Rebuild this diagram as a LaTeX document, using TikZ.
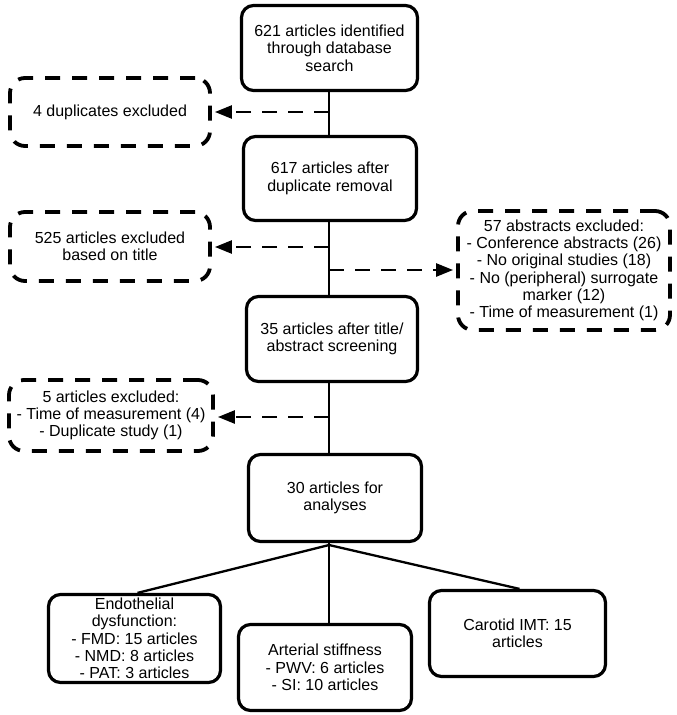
\documentclass[tikz,border=0pt]{standalone}
\usepackage{fontspec}
\setmainfont{Liberation Sans}
\usetikzlibrary{arrows.meta}
\begin{document}
\begin{tikzpicture}[x=1pt,y=-1pt,
  txt/.style={align=center, inner sep=0pt, font=\fontsize{16}{17.3}\selectfont},
  solidbox/.style={txt, draw, line width=3.2pt, rounded corners=12pt},
  dashbox/.style={txt, draw, line width=3.8pt, rounded corners=15pt, dash pattern=on 15pt off 12pt},
  conn/.style={line width=2.3pt},
  darr/.style={line width=2.5pt, dash pattern=on 15pt off 11pt, -{Triangle[length=17pt,width=13pt]}, shorten >=3pt}
]
\useasboundingbox (0,0) rectangle (677,715);
\coordinate (sp) at (329,0);

% main column
\node[solidbox, minimum width=176pt, minimum height=85pt] (b1) at (329.5,48) {621 articles identified\\through database\\search};
\node[solidbox, minimum width=173pt, minimum height=84pt] (b2) at (330,178.5) {617 articles after\\duplicate removal};
\node[solidbox, minimum width=171pt, minimum height=85pt] (b3) at (332,339) {35 articles after title/\\abstract screening};
\node[solidbox, minimum width=173pt, minimum height=87pt] (b4) at (335,498) {30 articles for\\analyses};

% exclusion boxes
\node[dashbox, minimum width=200pt, minimum height=68pt] (dup) at (110,112) {4 duplicates excluded};
\node[dashbox, minimum width=200pt, minimum height=69pt] (ttl) at (110,246.5) {525 articles excluded\\based on title};
\node[dashbox, minimum width=212pt, minimum height=119pt] (abs) at (564,270.5) {57 abstracts excluded:\\- Conference abstracts (26)\\- No original studies (18)\\- No (peripheral) surrogate\\marker (12)\\- Time of measurement (1)};
\node[dashbox, minimum width=204pt, minimum height=71pt] (fiv) at (111,415.5) {5 articles excluded:\\- Time of measurement (4)\\- Duplicate study (1)};

% outcome boxes
\node[solidbox, minimum width=172pt, minimum height=88pt] (endo) at (134.5,638.5) {Endothelial\\dysfunction:\\- FMD: 15 articles\\- NMD: 8 articles\\- PAT: 3 articles};
\node[solidbox, minimum width=173pt, minimum height=86pt] (art) at (325,667.5) {Arterial stiffness\\- PWV: 6 articles\\- SI: 10 articles};
\node[solidbox, minimum width=176pt, minimum height=86pt] (car) at (517.5,633.5) {Carotid IMT: 15\\articles};

% spine
\draw[conn] (b1.south -| sp) -- (b2.north -| sp);
\draw[conn] (b2.south -| sp) -- (b3.north -| sp);
\draw[conn] (b3.south -| sp) -- (b4.north -| sp);

% junctions
\coordinate (j1) at (329,112);
\coordinate (j2) at (329,247);
\coordinate (j3) at (329,270);
\coordinate (j4) at (329,417);
\draw[darr] (j1) -- (dup.east |- j1);
\draw[darr] (j2) -- (ttl.east |- j2);
\draw[darr] (j3) -- (abs.west |- j3);
\draw[darr] (j4) -- (fiv.east |- j4);

% branches
\coordinate (apex) at (329,545);
\draw[conn] (b4.south -| sp) -- (apex);
\draw[conn] (apex) -- ([xshift=3pt]endo.north);
\draw[conn] (apex) -- (art.north -| sp);
\draw[conn] (apex) -- ([xshift=2pt]car.north);
\end{tikzpicture}
\end{document}
